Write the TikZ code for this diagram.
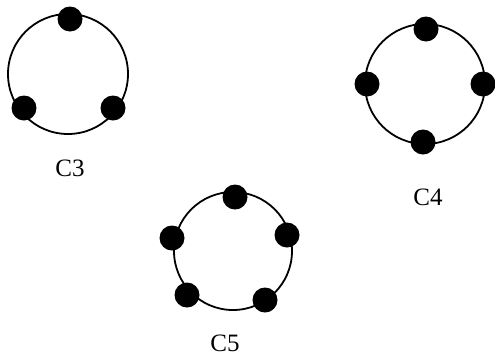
\documentclass[tikz,border=0pt]{standalone}
\usepackage{fontspec}
\setmainfont{Liberation Serif}
\begin{document}
\begin{tikzpicture}[x=1pt,y=-1pt,
  ring/.style={draw=black,line width=1.8pt,circle,minimum size=120pt,inner sep=0pt},
  dot/.style={fill=black,circle,minimum size=25pt,inner sep=0pt},
  lbl/.style={font=\fontsize{25}{30}\selectfont,inner sep=0pt}]
\useasboundingbox (0,0) rectangle (495,357);
% C3
\node[ring] (r3) at (68,74) {};
\node[dot] (c3a) at (70,19) {};
\node[dot] (c3b) at (24,108) {};
\node[dot] (c3c) at (113,108) {};
\node[lbl] (l3) at (70,168) {C3};
% C4
\node[ring] (r4) at (425,84) {};
\node[dot] (c4a) at (426,29) {};
\node[dot] (c4b) at (367,84) {};
\node[dot] (c4c) at (483,84) {};
\node[dot] (c4d) at (423,142) {};
\node[lbl] (l4) at (428,197) {C4};
% C5
\node[ring,minimum size=118pt] (r5) at (233,251) {};
\node[dot] (c5a) at (235,197) {};
\node[dot] (c5b) at (287,235) {};
\node[dot] (c5c) at (172,238) {};
\node[dot] (c5d) at (187,295) {};
\node[dot] (c5e) at (265,300) {};
\node[lbl] (l5) at (225,343) {C5};
\end{tikzpicture}
\end{document}
